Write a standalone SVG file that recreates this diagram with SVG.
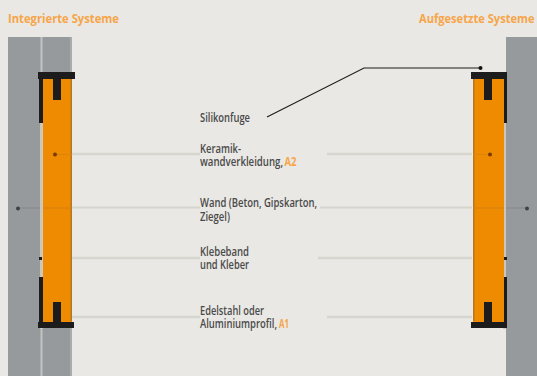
<svg xmlns="http://www.w3.org/2000/svg" width="537" height="376" viewBox="0 0 537 376">
<style>
.wall{fill:#979a9d}
.or{fill:#ee8b00}
.edge{fill:#b5781f}
.k{fill:#1c1c1c}
.gap{fill:#cfc6ba}
.gl{stroke:#d6d5d0;stroke-width:2.5;fill:none}
.d{fill:#3c4348}
.dr{fill:#7a3a08}
text{font-family:"Open Sans","Noto Sans",sans-serif;font-weight:600}
.h{font-size:13px;font-weight:700;fill:#f7a548}
.t{font-size:12.5px;fill:#4a4a4a}
.a{fill:#f7a548;font-weight:700}
</style>
<rect width="537" height="376" fill="#e9e8e4"/>
<g id="wall-left">
<rect class="wall" x="8" y="37" width="64" height="339"/>
<rect x="40.500" y="37" width="2" height="339" fill="#c2c3c3"/>
<rect x="70" y="37" width="2" height="35" fill="#aaacac"/>
<rect x="70" y="328" width="2" height="48" fill="#aaacac"/>
</g>
<g id="wall-right">
<rect class="wall" x="506" y="37" width="31" height="339"/>
</g>
<g id="lines-behind">
<path class="gl" d="M72 154H200M327 154H472M72 258H200M318 258H472M72 317H200M327 317H472"/>
<path class="gl" d="M72 207.500H200M320 207.500H472" style="stroke-width:2"/>
</g>
<g id="panel-left">
<rect class="gap" x="40" y="79" width="3" height="250"/>
<rect class="or" x="43" y="78" width="29" height="250"/>
<rect class="edge" x="70.500" y="79" width="1.500" height="242"/>
<path class="k" d="M38 72H75V79H61V100H53V79H43V123H39V79H38Z"/>
<path class="k" d="M38 328H74V322H61V302H53V322H43V277H39V322H38Z"/>
<rect class="k" x="39" y="257" width="3" height="3"/>
</g>
<g id="panel-right">
<rect class="gap" x="503" y="79" width="3" height="250"/>
<rect class="or" x="473" y="78" width="31" height="250"/>
<rect class="edge" x="473" y="79" width="1.500" height="242"/>
<path class="k" d="M471 72H507V123H504V79H492V100H484V79H471Z"/>
<path class="k" d="M471 328H507V277H504V322H492V302H484V322H471Z"/>
<rect class="k" x="504" y="257" width="3" height="3"/>
</g>
<g id="connectors">
<path d="M43 208H72M473 208H504" stroke="#d08010" stroke-width="1" fill="none"/>
<path d="M18 208H40M506 208H527" stroke="#85888a" stroke-width="1" fill="none"/>
<path d="M55 154.500H72M473 154.500H490" stroke="#d9850a" stroke-width="1" fill="none"/>
<path d="M267 117L364 68H480" stroke="#1c1c1c" stroke-width="1.100" fill="none"/>
<circle cx="480.500" cy="68" r="2" fill="#111"/>
<circle class="dr" cx="55" cy="154.500" r="2"/>
<circle class="dr" cx="490" cy="154.500" r="2"/>
<circle class="d" cx="18" cy="208.500" r="2"/>
<circle class="d" cx="527" cy="208.500" r="2"/>
</g>
<g id="heading-left"><text class="h" transform="translate(8 23) scale(.85 1)" textLength="130.600" lengthAdjust="spacingAndGlyphs">Integrierte Systeme</text></g>
<g id="heading-right"><text class="h" transform="translate(419 23) scale(.85 1)" textLength="135.900" lengthAdjust="spacingAndGlyphs">Aufgesetzte Systeme</text></g>
<g id="label-silikonfuge"><text class="t" transform="translate(200 122) scale(.8 1)" textLength="62.500" lengthAdjust="spacingAndGlyphs">Silikonfuge</text></g>
<g id="label-keramik">
<text class="t" transform="translate(200 153) scale(.8 1)"><tspan x="0" y="0" textLength="51.300" lengthAdjust="spacingAndGlyphs">Keramik-</tspan><tspan x="0" y="13" textLength="103.800" lengthAdjust="spacingAndGlyphs">wandverkleidung,</tspan><tspan class="a" x="105.600" y="13" textLength="15" lengthAdjust="spacingAndGlyphs">A2</tspan></text>
</g>
<g id="label-wand">
<text class="t" transform="translate(200 207) scale(.8 1)"><tspan x="0" y="0" textLength="146.300" lengthAdjust="spacingAndGlyphs">Wand (Beton, Gipskarton,</tspan><tspan x="0" y="14" textLength="37.500" lengthAdjust="spacingAndGlyphs">Ziegel)</tspan></text>
</g>
<g id="label-klebeband">
<text class="t" transform="translate(200 256) scale(.8 1)"><tspan x="0" y="0" textLength="61.300" lengthAdjust="spacingAndGlyphs">Klebeband</tspan><tspan x="0" y="13" textLength="61.300" lengthAdjust="spacingAndGlyphs">und Kleber</tspan></text>
</g>
<g id="label-edelstahl">
<text class="t" transform="translate(200 315) scale(.8 1)"><tspan x="0" y="0" textLength="80" lengthAdjust="spacingAndGlyphs">Edelstahl oder</tspan><tspan x="0" y="13" textLength="96.300" lengthAdjust="spacingAndGlyphs">Aluminiumprofil,</tspan><tspan class="a" x="98.800" y="13" textLength="12.500" lengthAdjust="spacingAndGlyphs">A1</tspan></text>
</g>
</svg>
